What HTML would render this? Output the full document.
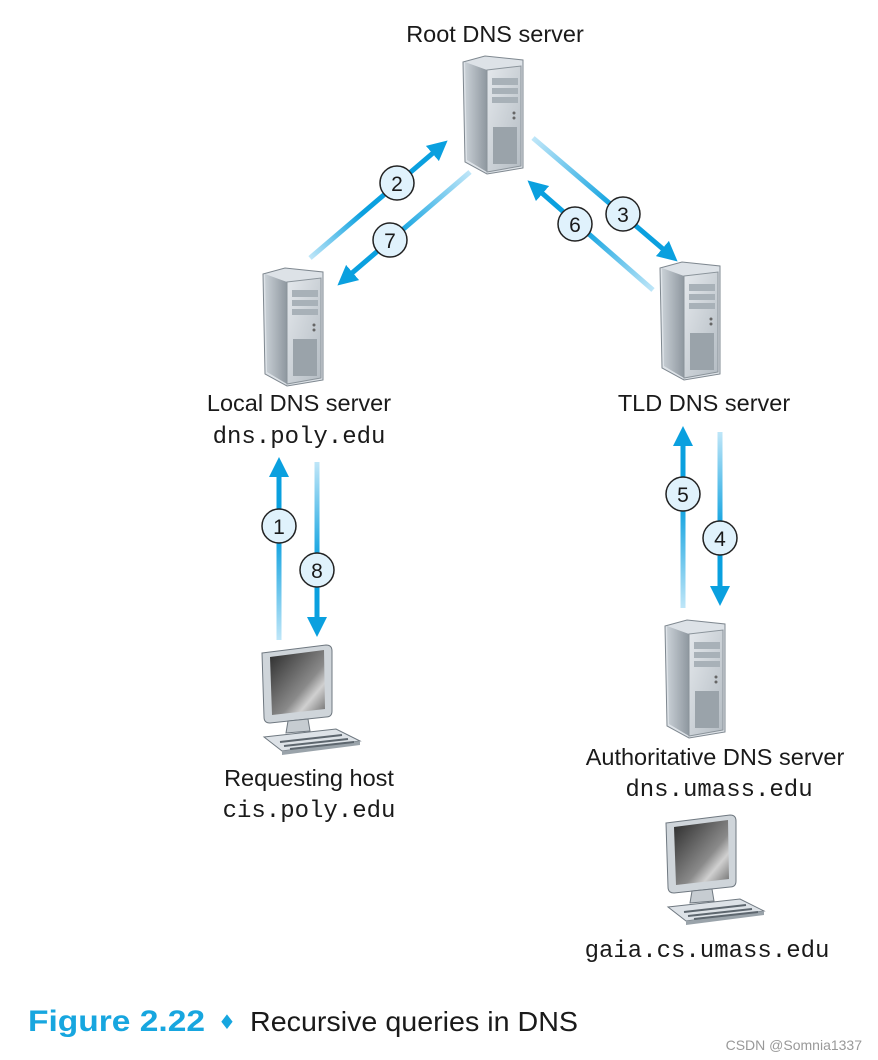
<!DOCTYPE html>
<html><head><meta charset="utf-8"><style>
html,body{margin:0;padding:0;background:#fff;}
svg{display:block;}
.t{font-family:"Liberation Sans",sans-serif;font-size:23.5px;fill:#1a1a1a;text-anchor:middle;}
.m{font-family:"Liberation Mono",monospace;font-size:24px;fill:#1a1a1a;text-anchor:middle;}
.n{font-family:"Liberation Sans",sans-serif;font-size:21px;fill:#1a1a1a;text-anchor:middle;}
</style></head><body>
<svg width="878" height="1060" viewBox="0 0 878 1060" xmlns="http://www.w3.org/2000/svg">
<defs>
<linearGradient id="side" x1="0" x2="1" y1="0" y2="0"><stop offset="0" stop-color="#c9d0d6"/><stop offset="1" stop-color="#8e979f"/></linearGradient>
<linearGradient id="front" x1="0" x2="1" y1="0" y2="1"><stop offset="0" stop-color="#e4e8ec"/><stop offset="1" stop-color="#b4bcc3"/></linearGradient>
<linearGradient id="scr" x1="0" x2="1" y1="0" y2="1"><stop offset="0" stop-color="#2a2a2a"/><stop offset="0.6" stop-color="#8a8a8a"/><stop offset="0.75" stop-color="#d0d0d0"/><stop offset="1" stop-color="#6a6a6a"/></linearGradient>
<g id="srv">
 <path d="M0 6 L22 0 L60 4 L60 112 L24 118 L2 106 Z" fill="#dde2e7" stroke="#7f8890" stroke-width="1"/>
 <path d="M2 6 L24 14 L24 116 L4 104 Z" fill="url(#side)"/>
 <path d="M24 14 L58 10 L58 110 L24 116 Z" fill="url(#front)" stroke="#8a939a" stroke-width="1"/>
 <rect x="29" y="22" width="26" height="7" fill="#a8b1b8"/>
 <rect x="29" y="32" width="26" height="6" fill="#a8b1b8"/>
 <rect x="29" y="41" width="26" height="6" fill="#a8b1b8"/>
 <circle cx="51" cy="57" r="1.5" fill="#666"/><circle cx="51" cy="62" r="1.5" fill="#666"/>
 <rect x="30" y="71" width="24" height="37" fill="#9aa3aa"/>
</g>
<g id="pc">
 <path d="M4 8 L68 0 Q74 0 74 6 L74 66 Q74 72 68 72 L12 78 Q6 78 6 72 Z" fill="#cfd5da" stroke="#6f7880"/>
 <path d="M12 12 L66 5 L67 64 L14 70 Z" fill="url(#scr)"/>
 <path d="M30 76 L50 74 L52 86 L28 88 Z" fill="#c6ccd1" stroke="#6f7880"/>
 <path d="M6 92 L78 84 L102 96 L24 106 Z" fill="#dde2e7" stroke="#6f7880"/>
 <path d="M24 106 L102 96 L102 100 L24 110 Z" fill="#9aa3aa"/>
 <line x1="22" y1="97" x2="84" y2="90" stroke="#5d666e" stroke-width="2"/>
 <line x1="26" y1="101" x2="90" y2="94" stroke="#5d666e" stroke-width="2"/>
 <line x1="32" y1="104" x2="96" y2="97" stroke="#5d666e" stroke-width="2"/>
</g>
<marker id="ah" viewBox="0 0 10 10" refX="5" refY="5" markerWidth="4" markerHeight="4" orient="auto" markerUnits="strokeWidth"><path d="M0 0 L10 5 L0 10 Z" fill="#0aa0df"/></marker>
<linearGradient id="g2" gradientUnits="userSpaceOnUse" x1="310" y1="258" x2="440" y2="147"><stop offset="0" stop-color="#bfe6f8"/><stop offset="0.4" stop-color="#0aa0df"/></linearGradient>
<linearGradient id="g7" gradientUnits="userSpaceOnUse" x1="470" y1="172" x2="345" y2="280"><stop offset="0" stop-color="#bfe6f8"/><stop offset="0.6" stop-color="#0aa0df"/></linearGradient>
<linearGradient id="g3" gradientUnits="userSpaceOnUse" x1="533" y1="138" x2="670" y2="255"><stop offset="0" stop-color="#bfe6f8"/><stop offset="0.6" stop-color="#0aa0df"/></linearGradient>
<linearGradient id="g6" gradientUnits="userSpaceOnUse" x1="653" y1="290" x2="535" y2="187"><stop offset="0" stop-color="#bfe6f8"/><stop offset="0.6" stop-color="#0aa0df"/></linearGradient>
<linearGradient id="gu1" gradientUnits="userSpaceOnUse" x1="0" y1="640" x2="0" y2="465"><stop offset="0" stop-color="#bfe6f8"/><stop offset="0.6" stop-color="#0aa0df"/></linearGradient>
<linearGradient id="gd8" gradientUnits="userSpaceOnUse" x1="0" y1="462" x2="0" y2="628"><stop offset="0" stop-color="#bfe6f8"/><stop offset="0.6" stop-color="#0aa0df"/></linearGradient>
<linearGradient id="gu5" gradientUnits="userSpaceOnUse" x1="0" y1="608" x2="0" y2="433"><stop offset="0" stop-color="#bfe6f8"/><stop offset="0.6" stop-color="#0aa0df"/></linearGradient>
<linearGradient id="gd4" gradientUnits="userSpaceOnUse" x1="0" y1="432" x2="0" y2="597"><stop offset="0" stop-color="#bfe6f8"/><stop offset="0.6" stop-color="#0aa0df"/></linearGradient>
</defs>

<text class="t" x="495" y="42">Root DNS server</text>
<use href="#srv" x="463" y="56"/>
<use href="#srv" x="263" y="268"/>
<use href="#srv" x="660" y="262"/>
<use href="#srv" x="665" y="620"/>
<use href="#pc" x="258" y="645"/>
<use href="#pc" x="662" y="815"/>

<g stroke-width="5" fill="none">
<line x1="310" y1="258" x2="440" y2="147" stroke="url(#g2)" marker-end="url(#ah)"/>
<line x1="470" y1="172" x2="345" y2="279" stroke="url(#g7)" marker-end="url(#ah)"/>
<line x1="533" y1="138" x2="670" y2="255" stroke="url(#g3)" marker-end="url(#ah)"/>
<line x1="653" y1="290" x2="535" y2="187" stroke="url(#g6)" marker-end="url(#ah)"/>
<line x1="279" y1="640" x2="279" y2="467" stroke="url(#gu1)" marker-end="url(#ah)"/>
<line x1="317" y1="462" x2="317" y2="627" stroke="url(#gd8)" marker-end="url(#ah)"/>
<line x1="683" y1="608" x2="683" y2="436" stroke="url(#gu5)" marker-end="url(#ah)"/>
<line x1="720" y1="432" x2="720" y2="596" stroke="url(#gd4)" marker-end="url(#ah)"/>
</g>

<g fill="#e0f2fc" stroke="#222" stroke-width="1.5">
<circle cx="397" cy="183" r="17"/><circle cx="390" cy="240" r="17"/>
<circle cx="575" cy="224" r="17"/><circle cx="623" cy="214" r="17"/>
<circle cx="279" cy="526" r="17"/><circle cx="317" cy="570" r="17"/>
<circle cx="683" cy="494" r="17"/><circle cx="720" cy="538" r="17"/>
</g>
<text class="n" x="397" y="191">2</text><text class="n" x="390" y="248">7</text>
<text class="n" x="575" y="232">6</text><text class="n" x="623" y="222">3</text>
<text class="n" x="279" y="534">1</text><text class="n" x="317" y="578">8</text>
<text class="n" x="683" y="502">5</text><text class="n" x="720" y="546">4</text>

<text class="t" x="299" y="411">Local DNS server</text>
<text class="m" x="299" y="443">dns.poly.edu</text>
<text class="t" x="704" y="411">TLD DNS server</text>
<text class="t" x="309" y="786">Requesting host</text>
<text class="m" x="309" y="817">cis.poly.edu</text>
<text class="t" x="715" y="765">Authoritative DNS server</text>
<text class="m" x="719" y="796">dns.umass.edu</text>
<text class="m" x="707" y="957">gaia.cs.umass.edu</text>

<text x="28" y="1031" font-family="Liberation Sans,sans-serif" font-weight="bold" font-size="30" fill="#17a6df" textLength="177" lengthAdjust="spacingAndGlyphs">Figure 2.22</text>
<text x="218" y="1029" font-family="DejaVu Sans,sans-serif" font-size="20" fill="#17a6df">♦</text>
<text x="250" y="1031" font-family="Liberation Sans,sans-serif" font-size="28" fill="#1a1a1a" textLength="328" lengthAdjust="spacingAndGlyphs">Recursive queries in DNS</text>
<text x="862" y="1050" font-family="Liberation Sans,sans-serif" font-size="14" fill="#999" text-anchor="end">CSDN @Somnia1337</text>
</svg>
</body></html>
